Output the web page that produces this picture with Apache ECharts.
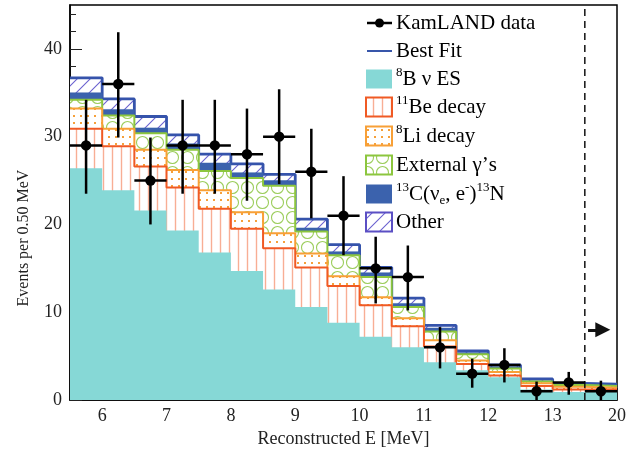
<!DOCTYPE html>
<html>
<head>
<meta charset="utf-8">
<script src="https://cdn.jsdelivr.net/npm/echarts@6/dist/echarts.min.js"></script>
<style>
  html, body { margin: 0; padding: 0; background: #fff; }
  #chart { width: 636px; height: 455px; }
</style>
</head>
<body>
<div id="chart"></div>
<script>
// 0.5 MeV bins; the last one (13.5-20 MeV) is squeezed into 13.5-14 on the axis
var binLow = [5.5, 6, 6.5, 7, 7.5, 8, 8.5, 9, 9.5, 10, 10.5, 11, 11.5, 12, 12.5, 13, 13.5];
var xTicks = [6, 7, 8, 9, 10, 11, 12, 13, 14];
var xTickLabels = ['6', '7', '8', '9', '10', '11', '12', '13', '20'];
var yTicks = [0, 10, 20, 30, 40];

// fit components (events per bin), bottom of the stack first
var b8Es    = [26.4, 23.9, 21.6, 19.3, 16.8, 14.7, 12.6, 10.6, 8.8, 7.2, 6.0, 4.3, 3.4, 2.6, 1.2, 0.9, 0.9];
var be11    = [4.5, 5.0, 5.0, 4.9, 5.0, 4.8, 4.7, 4.5, 4.2, 3.6, 2.4, 1.8, 0.7, 0.2, 0.4, 0.3, 0.3];
var li8     = [2.3, 2.0, 1.9, 2.0, 2.1, 1.9, 1.7, 1.6, 1.1, 0.9, 0.9, 0.7, 0.4, 0.4, 0.3, 0.3, 0.2];
var extGam  = [1.0, 1.5, 1.9, 2.3, 2.2, 3.9, 5.4, 2.5, 2.4, 2.3, 1.3, 1.0, 0.7, 0.4, 0.2, 0.2, 0.2];
var c13     = [0.8, 0.7, 0.6, 0.7, 0.9, 0.6, 0.6, 0.4, 0.4, 0.5, 0.4, 0.4, 0.2, 0.2, 0.1, 0.1, 0.1];
var other   = [1.7, 1.2, 1.3, 1.0, 1.0, 1.0, 0.7, 1.0, 0.8, 0.6, 0.6, 0.3, 0.2, 0.2, 0.2, 0.1, 0.1];

// KamLAND data with error bar ends
var dataY  = [29, 36, 25, 29, 29, 28, 30, 26, 21, 15, 14, 6, 3, 4, 1, 2, 1];
var dataLo = [23.5, 29.9, 20.0, 23.5, 23.5, 22.7, 24.6, 20.7, 16.5, 11.0, 10.2, 3.6, 1.4, 2.0, 0, 0.6, 0];
var dataHi = [34.2, 41.9, 29.9, 34.2, 34.2, 33.2, 35.4, 30.9, 25.5, 18.6, 17.6, 8.3, 4.7, 5.9, 2.1, 3.2, 2.2];

var FONT = '"Liberation Serif", "DejaVu Serif", serif';

// cumulative sums for the overlaid histograms
function addUp(a, b) { return a.map(function (v, i) { return v + b[i]; }); }
var sumB8 = b8Es;
var sumBe = addUp(sumB8, be11);
var sumLi = addUp(sumBe, li8);
var sumExt = addUp(sumLi, extGam);
var sumC13 = addUp(sumExt, c13);
var sumAll = addUp(sumC13, other);

function stepData(vals) {
  var d = binLow.map(function (x, i) { return [x, vals[i]]; });
  d.push([14, vals[vals.length - 1]]);
  return d;
}

function makePattern(w, h, draw) {
  var c = document.createElement('canvas');
  c.width = w; c.height = h;
  var ctx = c.getContext('2d');
  ctx.fillStyle = '#fff';
  ctx.fillRect(0, 0, w, h);
  draw(ctx);
  return { image: c, repeat: 'repeat' };
}
var patBe = makePattern(9, 9, function (ctx) {
  ctx.strokeStyle = '#f8ae95'; ctx.lineWidth = 1.4;
  ctx.beginPath(); ctx.moveTo(4.5, 0); ctx.lineTo(4.5, 9); ctx.stroke();
});
var patLi = makePattern(7, 7, function (ctx) {
  ctx.fillStyle = '#f6a03a'; ctx.fillRect(3, 3, 2, 2);
});
var patExt = makePattern(15, 15, function (ctx) {
  ctx.strokeStyle = '#9ccd5c'; ctx.lineWidth = 1.1;
  ctx.beginPath(); ctx.arc(7.5, 7.5, 6, 0, Math.PI * 2); ctx.stroke();
});
var patOther = makePattern(13, 13, function (ctx) {
  ctx.strokeStyle = '#6a62cf'; ctx.lineWidth = 1.1;
  ctx.beginPath();
  ctx.moveTo(0, 13); ctx.lineTo(13, 0);
  ctx.moveTo(-1, 1); ctx.lineTo(1, -1);
  ctx.moveTo(12, 14); ctx.lineTo(14, 12);
  ctx.stroke();
});

function histo(vals, fill, lineColor, lineWidth, z) {
  return {
    type: 'line', step: 'end', symbol: 'none', silent: true, z: z,
    data: stepData(vals),
    areaStyle: { color: fill, opacity: 1 },
    lineStyle: lineColor ? { color: lineColor, width: lineWidth } : { opacity: 0 }
  };
}

var xMinor = [];
for (var i = 56; i < 140; i += 2) { if (i % 10 !== 0) xMinor.push(i / 10); }
var yMinor = [];
for (var j = 2; j < 45; j += 2) { if (j % 10 !== 0) yMinor.push(j); }

var chart = echarts.init(document.getElementById('chart'));

var legendRows = [23, 51, 79, 107, 136, 165, 194, 222];
var rich = {
  m: { fontSize: 21, fontFamily: FONT, color: '#1a1a1a', lineHeight: 26 },
  s: { fontSize: 13, fontFamily: FONT, color: '#1a1a1a', lineHeight: 8, verticalAlign: 'top' },
  b: { fontSize: 13, fontFamily: FONT, color: '#1a1a1a', lineHeight: 12, verticalAlign: 'bottom' }
};
var legendTexts = [
  '{m|KamLAND data}',
  '{m|Best Fit}',
  '{s|8}{m|B ν ES}',
  '{s|11}{m|Be decay}',
  '{s|8}{m|Li decay}',
  '{m|External γ’s}',
  '{s|13}{m|C(ν}{b|e}{m|, e}{s|-}{m|)}{s|13}{m|N}',
  '{m|Other}'
];
var graphics = legendTexts.map(function (t, k) {
  return { type: 'text', x: 396, y: legendRows[k], z: 50,
    style: { text: t, rich: rich, verticalAlign: 'middle', align: 'left' } };
});
function box(k, fill, stroke) {
  return { type: 'rect', z: 50, shape: { x: 366, y: legendRows[k] - 9.5, width: 26, height: 19 },
    style: { fill: fill, stroke: stroke || null, lineWidth: stroke ? 2 : 0 } };
}
graphics.push(
  { type: 'line', z: 50, shape: { x1: 367, y1: legendRows[0], x2: 392, y2: legendRows[0] }, style: { stroke: '#000', lineWidth: 2.5 } },
  { type: 'circle', z: 50, shape: { cx: 379.5, cy: legendRows[0], r: 4.5 }, style: { fill: '#000' } },
  { type: 'line', z: 50, shape: { x1: 367, y1: legendRows[1], x2: 392, y2: legendRows[1] }, style: { stroke: '#3856aa', lineWidth: 2 } },
  box(2, '#86d8d6'),
  box(3, patBe, '#f05a24'),
  box(4, patLi, '#f8a037'),
  box(5, patExt, '#8cc63e'),
  box(6, '#3b62ad'),
  box(7, patOther, '#5b4fc4'),
  { type: 'text', x: 24, y: 238, rotation: Math.PI / 2,
    style: { text: 'Events per 0.50 MeV', fontSize: 16, fontFamily: FONT, fill: '#222', align: 'center', verticalAlign: 'middle' } }
);

chart.setOption({
  animation: false,
  grid: { left: 70, right: 19, top: 5, bottom: 55, show: true, borderColor: '#000', borderWidth: 1.5 },
  xAxis: [{
    type: 'value', min: 5.5, max: 14, position: 'bottom',
    name: 'Reconstructed E [MeV]', nameLocation: 'middle', nameGap: 28,
    nameTextStyle: { fontSize: 18, fontFamily: FONT, color: '#222' },
    axisLine: { onZero: false, lineStyle: { color: '#000', width: 1.5 } },
    axisTick: { inside: true, length: 12, customValues: xTicks, lineStyle: { color: '#222' } },
    axisLabel: { customValues: xTicks, margin: 7, fontSize: 18, fontFamily: FONT, color: '#222',
      formatter: function (v) { return xTickLabels[xTicks.indexOf(v)]; } },
    splitLine: { show: false }
  }, {
    type: 'value', min: 5.5, max: 14, position: 'bottom',
    axisLine: { show: false, onZero: false },
    axisTick: { inside: true, length: 6, customValues: xMinor, lineStyle: { color: '#222' } },
    axisLabel: { show: false },
    splitLine: { show: false }
  }],
  yAxis: [{
    type: 'value', min: 0, max: 45, position: 'left',
    axisLine: { show: true, onZero: false, lineStyle: { color: '#000', width: 1.5 } },
    axisTick: { inside: true, length: 12, customValues: yTicks, lineStyle: { color: '#222' } },
    axisLabel: { customValues: yTicks, margin: 8, fontSize: 18, fontFamily: FONT, color: '#222' },
    splitLine: { show: false }
  }, {
    type: 'value', min: 0, max: 45, position: 'left',
    axisLine: { show: false, onZero: false },
    axisTick: { inside: true, length: 6, customValues: yMinor, lineStyle: { color: '#222' } },
    axisLabel: { show: false },
    splitLine: { show: false }
  }],
  graphic: graphics,
  series: [
    histo(sumAll, patOther, '#3553ab', 2.8, 1),
    histo(sumC13, '#3b62ad', '#3b62ad', 0.5, 2),
    histo(sumExt, patExt, '#8cc63e', 2, 3),
    histo(sumLi, patLi, '#f8a037', 2, 4),
    histo(sumBe, patBe, '#f05a24', 2, 5),
    histo(sumB8, '#86d8d6', null, 0, 6),
    {
      type: 'line', symbol: 'none', silent: true, z: 15,
      data: [[13.5, 0], [13.5, 45]],
      lineStyle: { color: '#111', width: 1.5, type: [7, 5] },
      markLine: {
        silent: true, z: 25, symbol: ['none', 'triangle'], symbolSize: 15,
        label: { show: false },
        lineStyle: { color: '#111', width: 3, type: 'solid' },
        data: [[{ coord: [13.55, 8] }, { coord: [13.78, 8] }]]
      }
    },
    {
      type: 'custom', z: 20, silent: true,
      encode: { x: 0, y: 1 },
      data: dataY.map(function (y, k) { return [binLow[k] + 0.25, y, dataLo[k], dataHi[k]]; }),
      renderItem: function (params, api) {
        var x = api.value(0), y = api.value(1);
        var c = api.coord([x, y]);
        var top = api.coord([x, api.value(3)]);
        var bot = api.coord([x, api.value(2)]);
        var l = api.coord([x - 0.25, y]), r = api.coord([x + 0.25, y]);
        var ls = { stroke: '#000', lineWidth: 2.5 };
        return { type: 'group', children: [
          { type: 'line', shape: { x1: c[0], y1: top[1], x2: c[0], y2: bot[1] }, style: ls },
          { type: 'line', shape: { x1: l[0], y1: c[1], x2: r[0], y2: c[1] }, style: ls },
          { type: 'circle', shape: { cx: c[0], cy: c[1], r: 5.2 }, style: { fill: '#000' } }
        ] };
      }
    }
  ]
});
</script>
</body>
</html>
